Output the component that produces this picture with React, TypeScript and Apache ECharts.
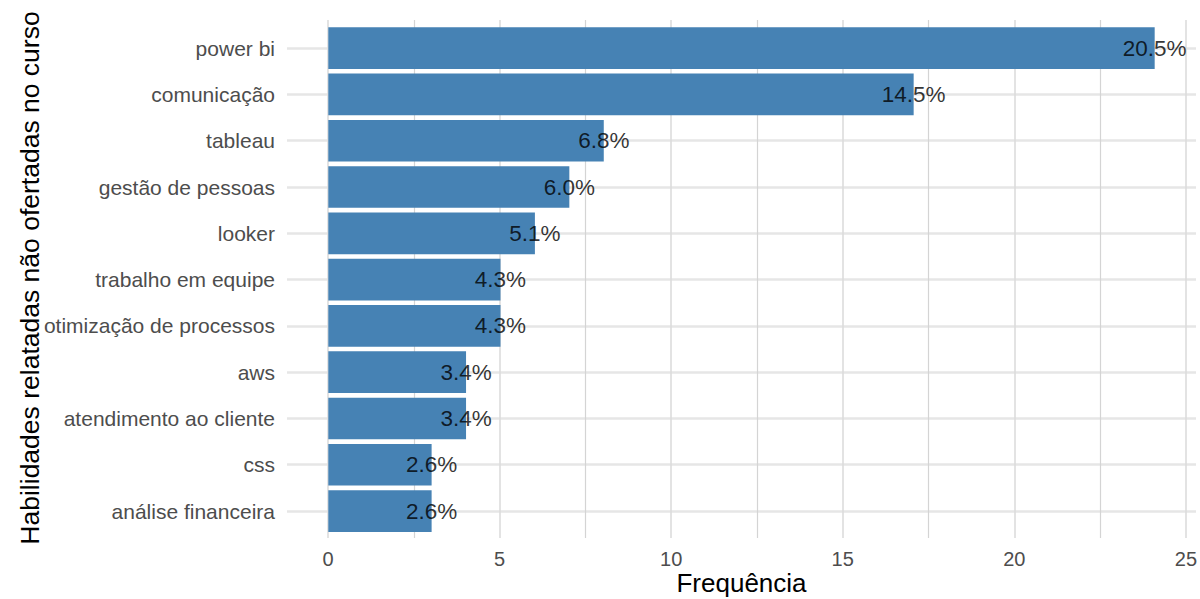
import React, { useEffect, useRef } from "react";
import * as echarts from "echarts";

const categories = [
  "power bi",
  "comunicação",
  "tableau",
  "gestão de pessoas",
  "looker",
  "trabalho em equipe",
  "otimização de processos",
  "aws",
  "atendimento ao cliente",
  "css",
  "análise financeira",
];
const counts = [24, 17, 8, 7, 6, 5, 5, 4, 4, 3, 3];
const pctLabels = ["20.5%", "14.5%", "6.8%", "6.0%", "5.1%", "4.3%", "4.3%", "3.4%", "3.4%", "2.6%", "2.6%"];
const xMin = 0;
const xMax = 25;
const xInterval = 5;
const xTitle = "Frequência";
const yTitle = "Habilidades relatadas não ofertadas no curso";

const FONT = "'Liberation Sans', Arial, Helvetica, sans-serif";

export default function App() {
  const ref = useRef<HTMLDivElement>(null);
  useEffect(() => {
    if (!ref.current) return;
    const chart = echarts.init(ref.current, null, { renderer: "svg" });
    const option: any = {
      animation: false,
      backgroundColor: "#ffffff",
      textStyle: { fontFamily: FONT },
      grid: [
        // bars
        { left: 287, right: 4, top: 25, bottom: 64.8 },
        // vertical grid lines + x labels
        { left: 328, right: 11, top: 20, bottom: 61 },
        // horizontal grid lines
        { left: 287, right: 4, top: 48, bottom: 88 },
      ],
      xAxis: [
        { gridIndex: 0, type: "value", min: -1.2, max: 25.2, show: false },
        {
          gridIndex: 1,
          type: "value",
          min: xMin,
          max: xMax,
          interval: xInterval,
          axisLine: { show: false },
          axisTick: { show: false },
          minorTick: { show: false, splitNumber: 2 },
          splitLine: { show: true, lineStyle: { color: "#dcdcdc", width: 1.6 } },
          minorSplitLine: { show: true, lineStyle: { color: "#d4d4d4", width: 1.2 } },
          axisLabel: { color: "#4d4d4d", fontSize: 20, margin: 11, fontFamily: FONT },
        },
        { gridIndex: 2, type: "value", min: 0, max: 1, show: false },
      ],
      yAxis: [
        {
          gridIndex: 0,
          type: "category",
          data: categories,
          inverse: true,
          axisLine: { show: false },
          axisTick: { show: false },
          splitLine: { show: false },
          axisLabel: { color: "#4d4d4d", fontSize: 21, margin: 12, fontFamily: FONT },
        },
        { gridIndex: 1, type: "value", min: 0, max: 1, show: false },
        {
          gridIndex: 2,
          type: "value",
          min: 0,
          max: categories.length - 1,
          interval: 1,
          axisLine: { show: false },
          axisTick: { show: false },
          axisLabel: { show: false },
          splitLine: { show: true, lineStyle: { color: "#e6e6e6", width: 2.6 } },
        },
      ],
      series: [
        { type: "scatter", xAxisIndex: 1, yAxisIndex: 1, data: [], silent: true },
        { type: "scatter", xAxisIndex: 2, yAxisIndex: 2, data: [], silent: true },
        {
          type: "bar",
          xAxisIndex: 0,
          yAxisIndex: 0,
          data: counts,
          barCategoryGap: "10%",
          itemStyle: { color: "#4682B4" },
          z: 2,
        },
        {
          type: "scatter",
          xAxisIndex: 0,
          yAxisIndex: 0,
          data: counts.map((v, i) => [v, categories[i]]),
          symbolSize: 1,
          itemStyle: { color: "rgba(0,0,0,0)" },
          z: 3,
          label: {
            show: true,
            position: "inside",
            formatter: (p: any) => pctLabels[p.dataIndex],
            color: "#000000",
            textBorderWidth: 0,
            fontSize: 22.5,
            fontFamily: FONT,
          },
        },
      ],
      graphic: [
        {
          type: "text",
          x: 741.5,
          y: 583,
          style: {
            text: xTitle,
            fill: "#000000",
            fontSize: 26,
            fontFamily: FONT,
            align: "center",
            verticalAlign: "middle",
          },
        },
        {
          type: "text",
          x: 30,
          y: 278,
          rotation: Math.PI / 2,
          style: {
            text: yTitle,
            fill: "#000000",
            fontSize: 26.5,
            fontFamily: FONT,
            align: "center",
            verticalAlign: "middle",
          },
        },
      ],
    };
    chart.setOption(option);
    return () => chart.dispose();
  }, []);
  return (
    <div
      ref={ref}
      style={{ position: "fixed", left: 0, top: 0, width: 1200, height: 599 }}
    />
  );
}
